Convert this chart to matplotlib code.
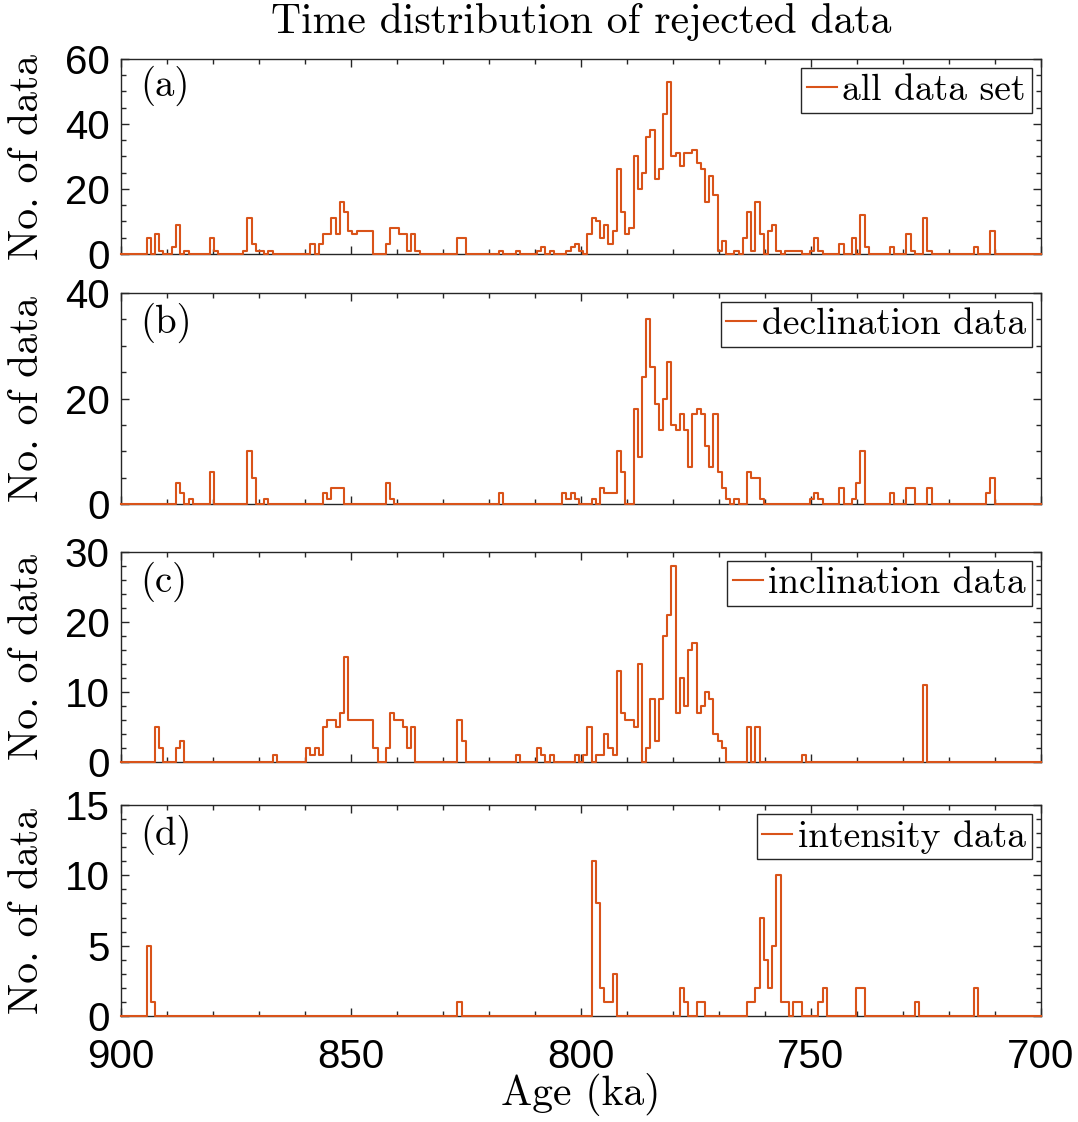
import numpy as np
import matplotlib
matplotlib.use("Agg")
import matplotlib.pyplot as plt
from matplotlib.ticker import MultipleLocator

# Histogram bins (ka): first edge and bin width, counting towards younger ages
AGE_TOP = 894.42
BIN_WIDTH = 0.9126

# Counts of rejected data per bin, oldest bin first
all_counts = [
    5, 0, 6, 1, 0, 0, 2, 9, 0, 1, 0, 0, 0, 0, 0, 5, 1, 0, 0, 0,
    0, 0, 0, 1, 11, 3, 1, 1, 0, 1, 0, 0, 0, 0, 0, 0, 0, 0, 0, 3,
    0, 3, 6, 6, 11, 6, 16, 13, 7, 6, 7, 7, 7, 7, 0, 0, 0, 3, 8, 8,
    6, 6, 1, 6, 1, 0, 0, 0, 0, 0, 0, 0, 0, 0, 5, 5, 0, 0, 0, 0,
    0, 0, 0, 0, 1, 0, 0, 0, 1, 0, 0, 0, 0, 1, 2, 0, 1, 0, 0, 0,
    1, 2, 3, 1, 0, 6, 11, 10, 5, 9, 3, 7, 26, 13, 6, 8, 30, 20, 25, 36,
    38, 23, 26, 43, 53, 30, 31, 27, 31, 31, 32, 28, 26, 16, 24, 18, 1, 4, 0, 0,
    1, 0, 5, 13, 1, 16, 6, 0, 7, 9, 1, 0, 1, 1, 1, 1, 0, 0, 1, 5,
    1, 0, 0, 0, 0, 3, 0, 0, 5, 0, 12, 2, 0, 0, 0, 0, 0, 2, 0, 0,
    0, 6, 1, 0, 0, 11, 1, 0, 0, 0, 0, 0, 0, 0, 0, 0, 0, 2, 0, 0,
    0, 7,
]
declination_counts = [
    0, 0, 0, 0, 0, 0, 0, 4, 2, 0, 1, 0, 0, 0, 0, 6, 0, 0, 0, 0,
    0, 0, 0, 0, 10, 5, 0, 0, 1, 0, 0, 0, 0, 0, 0, 0, 0, 0, 0, 0,
    0, 0, 2, 1, 3, 3, 3, 0, 0, 0, 0, 0, 0, 0, 0, 0, 0, 4, 1, 0,
    0, 0, 0, 0, 0, 0, 0, 0, 0, 0, 0, 0, 0, 0, 0, 0, 0, 0, 0, 0,
    0, 0, 0, 0, 2, 0, 0, 0, 0, 0, 0, 0, 0, 0, 0, 0, 0, 0, 0, 2,
    1, 2, 1, 0, 0, 0, 1, 0, 3, 2, 2, 2, 10, 6, 0, 0, 18, 9, 24, 35,
    26, 19, 14, 20, 27, 15, 14, 17, 14, 7, 17, 18, 17, 11, 7, 17, 6, 3, 1, 0,
    1, 0, 0, 6, 5, 5, 1, 0, 0, 0, 0, 0, 0, 0, 0, 0, 0, 0, 1, 2,
    1, 0, 0, 0, 0, 3, 0, 0, 1, 4, 10, 0, 0, 0, 0, 0, 0, 2, 0, 0,
    0, 3, 3, 0, 0, 0, 3, 0, 0, 0, 0, 0, 0, 0, 0, 0, 0, 0, 0, 0,
    2, 5,
]
inclination_counts = [
    0, 0, 5, 2, 0, 0, 0, 2, 3, 0, 0, 0, 0, 0, 0, 0, 0, 0, 0, 0,
    0, 0, 0, 0, 0, 0, 0, 0, 0, 0, 1, 0, 0, 0, 0, 0, 0, 0, 2, 1,
    2, 1, 5, 6, 6, 5, 7, 15, 6, 6, 6, 6, 6, 6, 2, 0, 0, 2, 7, 6,
    6, 5, 2, 5, 0, 0, 0, 0, 0, 0, 0, 0, 0, 0, 6, 3, 0, 0, 0, 0,
    0, 0, 0, 0, 0, 0, 0, 0, 1, 0, 0, 0, 0, 2, 1, 0, 1, 0, 0, 0,
    0, 0, 1, 0, 1, 5, 0, 1, 1, 4, 2, 1, 13, 7, 6, 6, 5, 14, 0, 2,
    9, 3, 9, 18, 21, 28, 7, 12, 8, 16, 17, 7, 8, 10, 9, 4, 3, 2, 0, 0,
    0, 0, 0, 5, 0, 5, 0, 0, 0, 0, 0, 0, 0, 0, 0, 0, 1, 0, 0, 0,
    0, 0, 0, 0, 0, 0, 0, 0, 0, 0, 0, 0, 0, 0, 0, 0, 0, 0, 0, 0,
    0, 0, 0, 0, 0, 11, 0, 0, 0, 0, 0, 0, 0, 0, 0, 0, 0, 0, 0, 0,
    0, 0,
]
intensity_counts = [
    5, 1, 0, 0, 0, 0, 0, 0, 0, 0, 0, 0, 0, 0, 0, 0, 0, 0, 0, 0,
    0, 0, 0, 0, 0, 0, 0, 0, 0, 0, 0, 0, 0, 0, 0, 0, 0, 0, 0, 0,
    0, 0, 0, 0, 0, 0, 0, 0, 0, 0, 0, 0, 0, 0, 0, 0, 0, 0, 0, 0,
    0, 0, 0, 0, 0, 0, 0, 0, 0, 0, 0, 0, 0, 0, 1, 0, 0, 0, 0, 0,
    0, 0, 0, 0, 0, 0, 0, 0, 0, 0, 0, 0, 0, 0, 0, 0, 0, 0, 0, 0,
    0, 0, 0, 0, 0, 0, 11, 8, 2, 1, 1, 3, 0, 0, 0, 0, 0, 0, 0, 0,
    0, 0, 0, 0, 0, 0, 0, 2, 1, 0, 0, 1, 1, 0, 0, 0, 0, 0, 0, 0,
    0, 0, 0, 1, 1, 2, 7, 4, 2, 5, 10, 1, 1, 0, 1, 1, 0, 0, 0, 0,
    1, 2, 0, 0, 0, 0, 0, 0, 0, 2, 2, 0, 0, 0, 0, 0, 0, 0, 0, 0,
    0, 0, 0, 1, 0, 0, 0, 0, 0, 0, 0, 0, 0, 0, 0, 0, 0, 2, 0, 0,
    0, 0,
]

series = [all_counts, declination_counts, inclination_counts, intensity_counts]
legend_names = ["all data set", "declination data", "inclination data", "intensity data"]
panel_tags = ["(a)", "(b)", "(c)", "(d)"]
y_limits = [60, 40, 30, 15]
y_major = [20, 20, 10, 5]
y_minor = [5, 5, 2, 1]

ORANGE = "#D95319"
AXCOL = "#262626"
SERIF = "cmr10"
SANS = "Liberation Sans"

W, H = 1078, 1122
fig = plt.figure(figsize=(W / 100, H / 100), dpi=100)

# axes boxes in pixels: (top, bottom)
boxes = [(59, 254), (293, 504), (552, 762), (805, 1016)]
left, right = 121, 1041

for i, counts in enumerate(series):
    top, bot = boxes[i]
    ax = fig.add_axes([left / W, 1 - bot / H, (right - left) / W, (bot - top) / H])

    counts = np.asarray(counts, dtype=float)
    edges = AGE_TOP - BIN_WIDTH * np.arange(len(counts) + 1)
    xs = np.concatenate([[900.0], edges, [700.0]])
    ys = np.concatenate([[0.0], counts, [0.0, 0.0]])
    ax.plot(xs, ys, drawstyle="steps-post", color=ORANGE, lw=1.5,
            label=legend_names[i], clip_on=False, zorder=3)

    ax.set_xlim(900, 700)
    ax.set_ylim(0, y_limits[i])
    ax.xaxis.set_major_locator(MultipleLocator(50))
    ax.xaxis.set_minor_locator(MultipleLocator(10))
    ax.yaxis.set_major_locator(MultipleLocator(y_major[i]))
    ax.yaxis.set_minor_locator(MultipleLocator(y_minor[i]))
    ax.tick_params(which="both", direction="in", top=True, right=True,
                   color=AXCOL, width=1.0)
    ax.tick_params(which="major", length=6, labelsize=29)
    ax.tick_params(axis="x", which="major", pad=16)
    ax.tick_params(axis="y", which="major", pad=8)
    ax.tick_params(which="minor", length=3.5)
    for lab in ax.get_xticklabels() + ax.get_yticklabels():
        lab.set_fontfamily(SANS)
    for sp in ax.spines.values():
        sp.set_color(AXCOL)
        sp.set_linewidth(1.0)
    if i < 3:
        ax.set_xticklabels([])

    ax.set_ylabel("No. of data", fontfamily=SERIF, fontsize=30)
    ax.yaxis.set_label_coords(-0.082, 0.5)

    ax.text(0.021, 0.86, panel_tags[i], transform=ax.transAxes,
            fontfamily=SERIF, fontsize=28, va="center", ha="left")

    leg = ax.legend(loc="upper right", prop={"family": SERIF, "size": 27},
                    handlelength=0.8, handletextpad=0.15, borderpad=0.15,
                    borderaxespad=0.25, fancybox=False, framealpha=1,
                    edgecolor=AXCOL)
    leg.get_frame().set_linewidth(1.0)

    if i == 3:
        ax.set_xlabel("Age (ka)", fontfamily=SERIF, fontsize=30, labelpad=-2)

fig.text(581 / W, 1 - 22 / H, "Time distribution of rejected data",
         fontfamily=SERIF, fontsize=30, ha="center", va="center")

fig.savefig("out.png", dpi=100)
